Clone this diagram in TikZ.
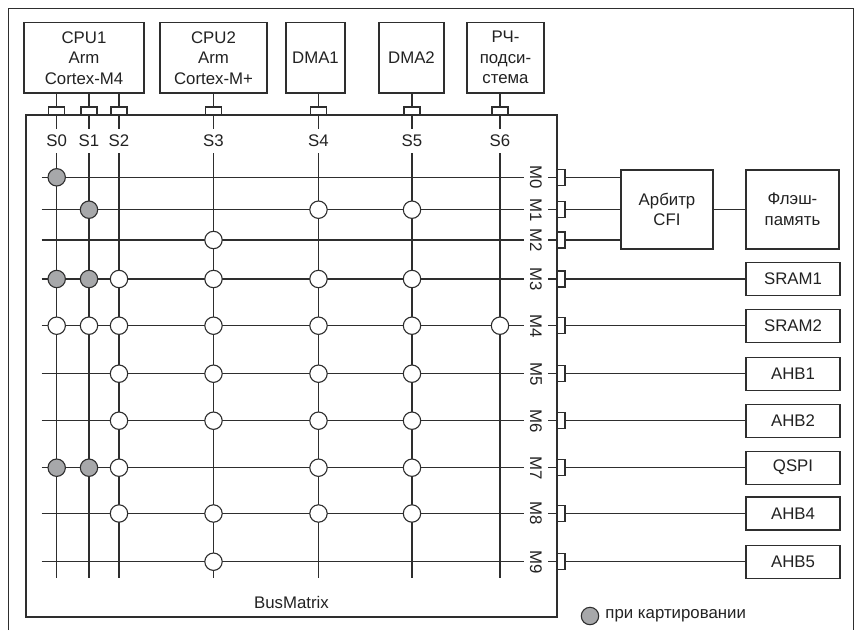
\documentclass[tikz,border=0pt]{standalone}
\usepackage{fontspec}
\setmainfont{Liberation Sans}
\definecolor{ln}{HTML}{2E2E2E}
\definecolor{gr}{HTML}{A7A8AA}
\definecolor{tx}{HTML}{222222}
\begin{document}
\begin{tikzpicture}[x=1pt,y=-1pt,
  fnt/.style={font=\fontsize{16.8}{20.5}\selectfont, text=tx},
  box/.style={draw=ln, line width=1.2pt, fill=white, inner sep=0pt, align=center, fnt},
  bus/.style={draw=ln, line width=1.2pt},
  sw/.style={circle, draw=ln, line width=1.1pt, fill=white, minimum size=17.4pt, inner sep=0pt},
  swg/.style={sw, fill=gr},
  portv/.style={draw=ln, line width=1.1pt, fill=white, minimum width=16pt, minimum height=8pt, inner sep=0pt},
  porth/.style={draw=ln, line width=1.1pt, fill=white, minimum width=8pt, minimum height=16pt, inner sep=0pt},
  slbl/.style={fill=white, inner xsep=1pt, inner ysep=6.5pt, fnt},
  mlbl/.style={fill=white, inner xsep=1pt, inner ysep=6.5pt, rotate=-90, fnt}]
\useasboundingbox (0,0) rectangle (855,630);
% outer frame
\draw[ln, line width=1pt] (8,630) -- (8,8) -- (853,8) -- (853,630);
% top units
\node[box, minimum width=120pt, minimum height=70.5pt] (cpu1) at (84,57.75) {CPU1\\Arm\\Cortex-M4};
\node[box, minimum width=107pt, minimum height=70.5pt] (cpu2) at (213.5,57.75) {CPU2\\Arm\\Cortex-M+};
\node[box, minimum width=59pt, minimum height=70.5pt] (dma1) at (315.5,57.75) {DMA1};
\node[box, minimum width=65pt, minimum height=70.5pt] (dma2) at (411.5,57.75) {DMA2};
\node[box, minimum width=77pt, minimum height=70.5pt] (rf) at (505.5,57.75) {РЧ-\\подси-\\стема};
% bus matrix
\node[draw=ln, line width=1.2pt, minimum width=531pt, minimum height=502pt, inner sep=0pt] (bm) at (291.5,366) {};
\node[fnt] (bmlbl) at (291.5,602) {BusMatrix};
% right units
\node[box, minimum width=92pt, minimum height=79pt] (arb) at (667,209.5) {Арбитр\\CFI};
\node[box, minimum width=93pt, minimum height=79pt] (flash) at (792.5,209.5) {Флэш-\\память};
\draw[bus] (arb) -- (flash);
\foreach \nm/\y/\t in {sram1/279/SRAM1, sram2/325.7/SRAM2, ahb1/373.7/AHB1, ahb2/420.7/AHB2, qspi/467.7/QSPI, ahb4/513.5/AHB4, ahb5/561.7/AHB5}
  \node[box, minimum width=94pt, minimum height=33pt] (\nm) at (793,\y) {\t};
% slave columns
\foreach \n/\x/\src in {0/56.7/cpu1, 1/89/cpu1, 2/119/cpu1, 3/213.5/cpu2, 4/318.5/dma1, 5/412/dma2, 6/500/rf} {
  \coordinate (col\n) at (\x,578);
  \draw[bus] (\src.south -| col\n) -- (col\n);
  \node[portv] (sp\n) at (\x,111) {};
  \node[slbl] (s\n) at (\x,141) {S\n};
}
% master rows
\foreach \n/\y/\dst in {0/177.3/arb, 1/209.7/arb, 2/240/arb, 3/279/sram1, 4/325.7/sram2, 5/373.7/ahb1, 6/420.7/ahb2, 7/467.7/qspi, 8/513.5/ahb4, 9/561.7/ahb5} {
  \coordinate (row\n) at (41.7,\y);
  \node[porth] (mp\n) at (561,\y) {};
  \draw[bus] (row\n) -- (mp\n.west);
  \draw[bus] (mp\n.east) -- (\dst.west |- mp\n);
  \node[mlbl] (m\n) at (536,\y) {M\n};
}
% switches
\foreach \c/\r in {0/0, 1/1, 0/3, 1/3, 0/7, 1/7}
  \node[swg] (g\c\r) at (col\c |- row\r) {};
\foreach \c/\r in {4/1, 5/1, 3/2, 2/3, 3/3, 4/3, 5/3, 0/4, 1/4, 2/4, 3/4, 4/4, 5/4, 6/4, 2/5, 3/5, 4/5, 5/5, 2/6, 3/6, 4/6, 5/6, 2/7, 4/7, 5/7, 2/8, 3/8, 4/8, 5/8, 3/9}
  \node[sw] (w\c\r) at (col\c |- row\r) {};
% legend
\node[swg] (leg) at (590,616) {};
\node[fnt, anchor=west, inner sep=2pt] (legtxt) at ([xshift=4pt]leg.east) {при картировании};
\end{tikzpicture}
\end{document}
